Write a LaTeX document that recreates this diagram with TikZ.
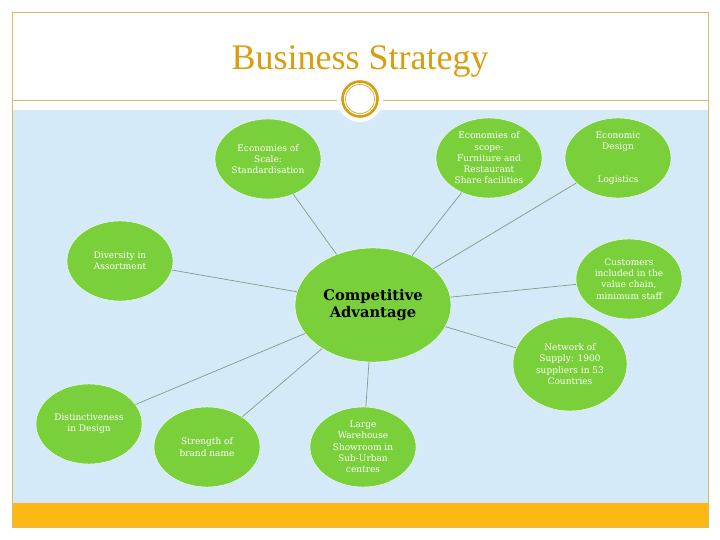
\documentclass[tikz,border=0pt]{standalone}
\usepackage{fontspec}
\setmainfont{DejaVu Serif}
\newfontfamily\titlefont{Liberation Serif}
\usetikzlibrary{shapes.geometric}
\definecolor{leafgreen}{HTML}{7AD03A}
\definecolor{skyblue}{HTML}{D4EAF9}
\definecolor{bandorange}{HTML}{FDB813}
\definecolor{framegold}{HTML}{D9B968}
\definecolor{titlegold}{HTML}{D99E0F}
\definecolor{linkgrey}{HTML}{7F9C8A}
\tikzset{
    leaf/.style={ellipse, fill=leafgreen, draw=white, line width=0.4pt, inner sep=0pt,
        minimum width=106pt, minimum height=80pt, align=center, text=white,
        font=\fontsize{9}{11.3}\selectfont},
    hub/.style={leaf, minimum width=156pt, minimum height=114pt, text=black,
        font=\fontsize{14.7}{17.5}\selectfont\bfseries},
    link/.style={draw=linkgrey, line width=0.7pt}
}
\begin{document}
\begin{tikzpicture}[x=1pt, y=-1pt]
    \useasboundingbox (0,0) rectangle (720,540);

    % Slide panels
    \fill[white] (0,0) rectangle (720,540);
    \fill[skyblue] (12,110) rectangle (708,503);
    \fill[bandorange] (12,503) rectangle (708,527);
    \draw[framegold, line width=0.8pt] (12,12) rectangle (708,527);
    \draw[framegold, line width=0.8pt] (12,100) -- (708,100);

    % Title and ring
    \node[text=titlegold, font=\titlefont\fontsize{36}{40}\selectfont] (title) at (360,61) {Business Strategy};
    \fill[white] (360,99) circle (23);
    \draw[titlegold, line width=2.6pt] (360,99) circle (17.5);
    \draw[titlegold, line width=0.6pt] (360,99) circle (14.5);

    % Centre and surrounding ellipses
    \node[hub] (advantage) at (373,305) {Competitive\\Advantage};
    \node[leaf] (scale) at (268,159) {Economies of\\Scale:\\Standardisation};
    \node[leaf] (scope) at (489,158) {Economies of\\scope:\\Furniture and\\Restaurant\\Share facilities};
    \node[leaf] (design) at (618,158) {Economic\\Design\\[21pt]Logistics};
    \node[leaf] (diversity) at (120,261) {Diversity in\\Assortment};
    \node[leaf] (customers) at (629,279) {Customers\\included in the\\value chain,\\minimum staff};
    \node[leaf, minimum width=114pt, minimum height=94pt] (network) at (570,364) {Network of\\Supply: 1900\\suppliers in 53\\Countries};
    \node[leaf] (distinct) at (89,424) {Distinctiveness\\in Design};
    \node[leaf] (brand) at (207,447) {Strength of\\brand name};
    \node[leaf] (warehouse) at (363,447) {Large\\Warehouse\\Showroom in\\Sub-Urban\\centres};

    % Connectors from the centre
    \draw[link] (advantage) -- (scale);
    \draw[link] (advantage) -- (scope);
    \draw[link] (advantage) -- (design);
    \draw[link] (advantage) -- (diversity);
    \draw[link] (advantage) -- (customers);
    \draw[link] (advantage) -- (network);
    \draw[link] (advantage) -- (distinct);
    \draw[link] (advantage) -- (brand);
    \draw[link] (advantage) -- (warehouse);
\end{tikzpicture}
\end{document}
